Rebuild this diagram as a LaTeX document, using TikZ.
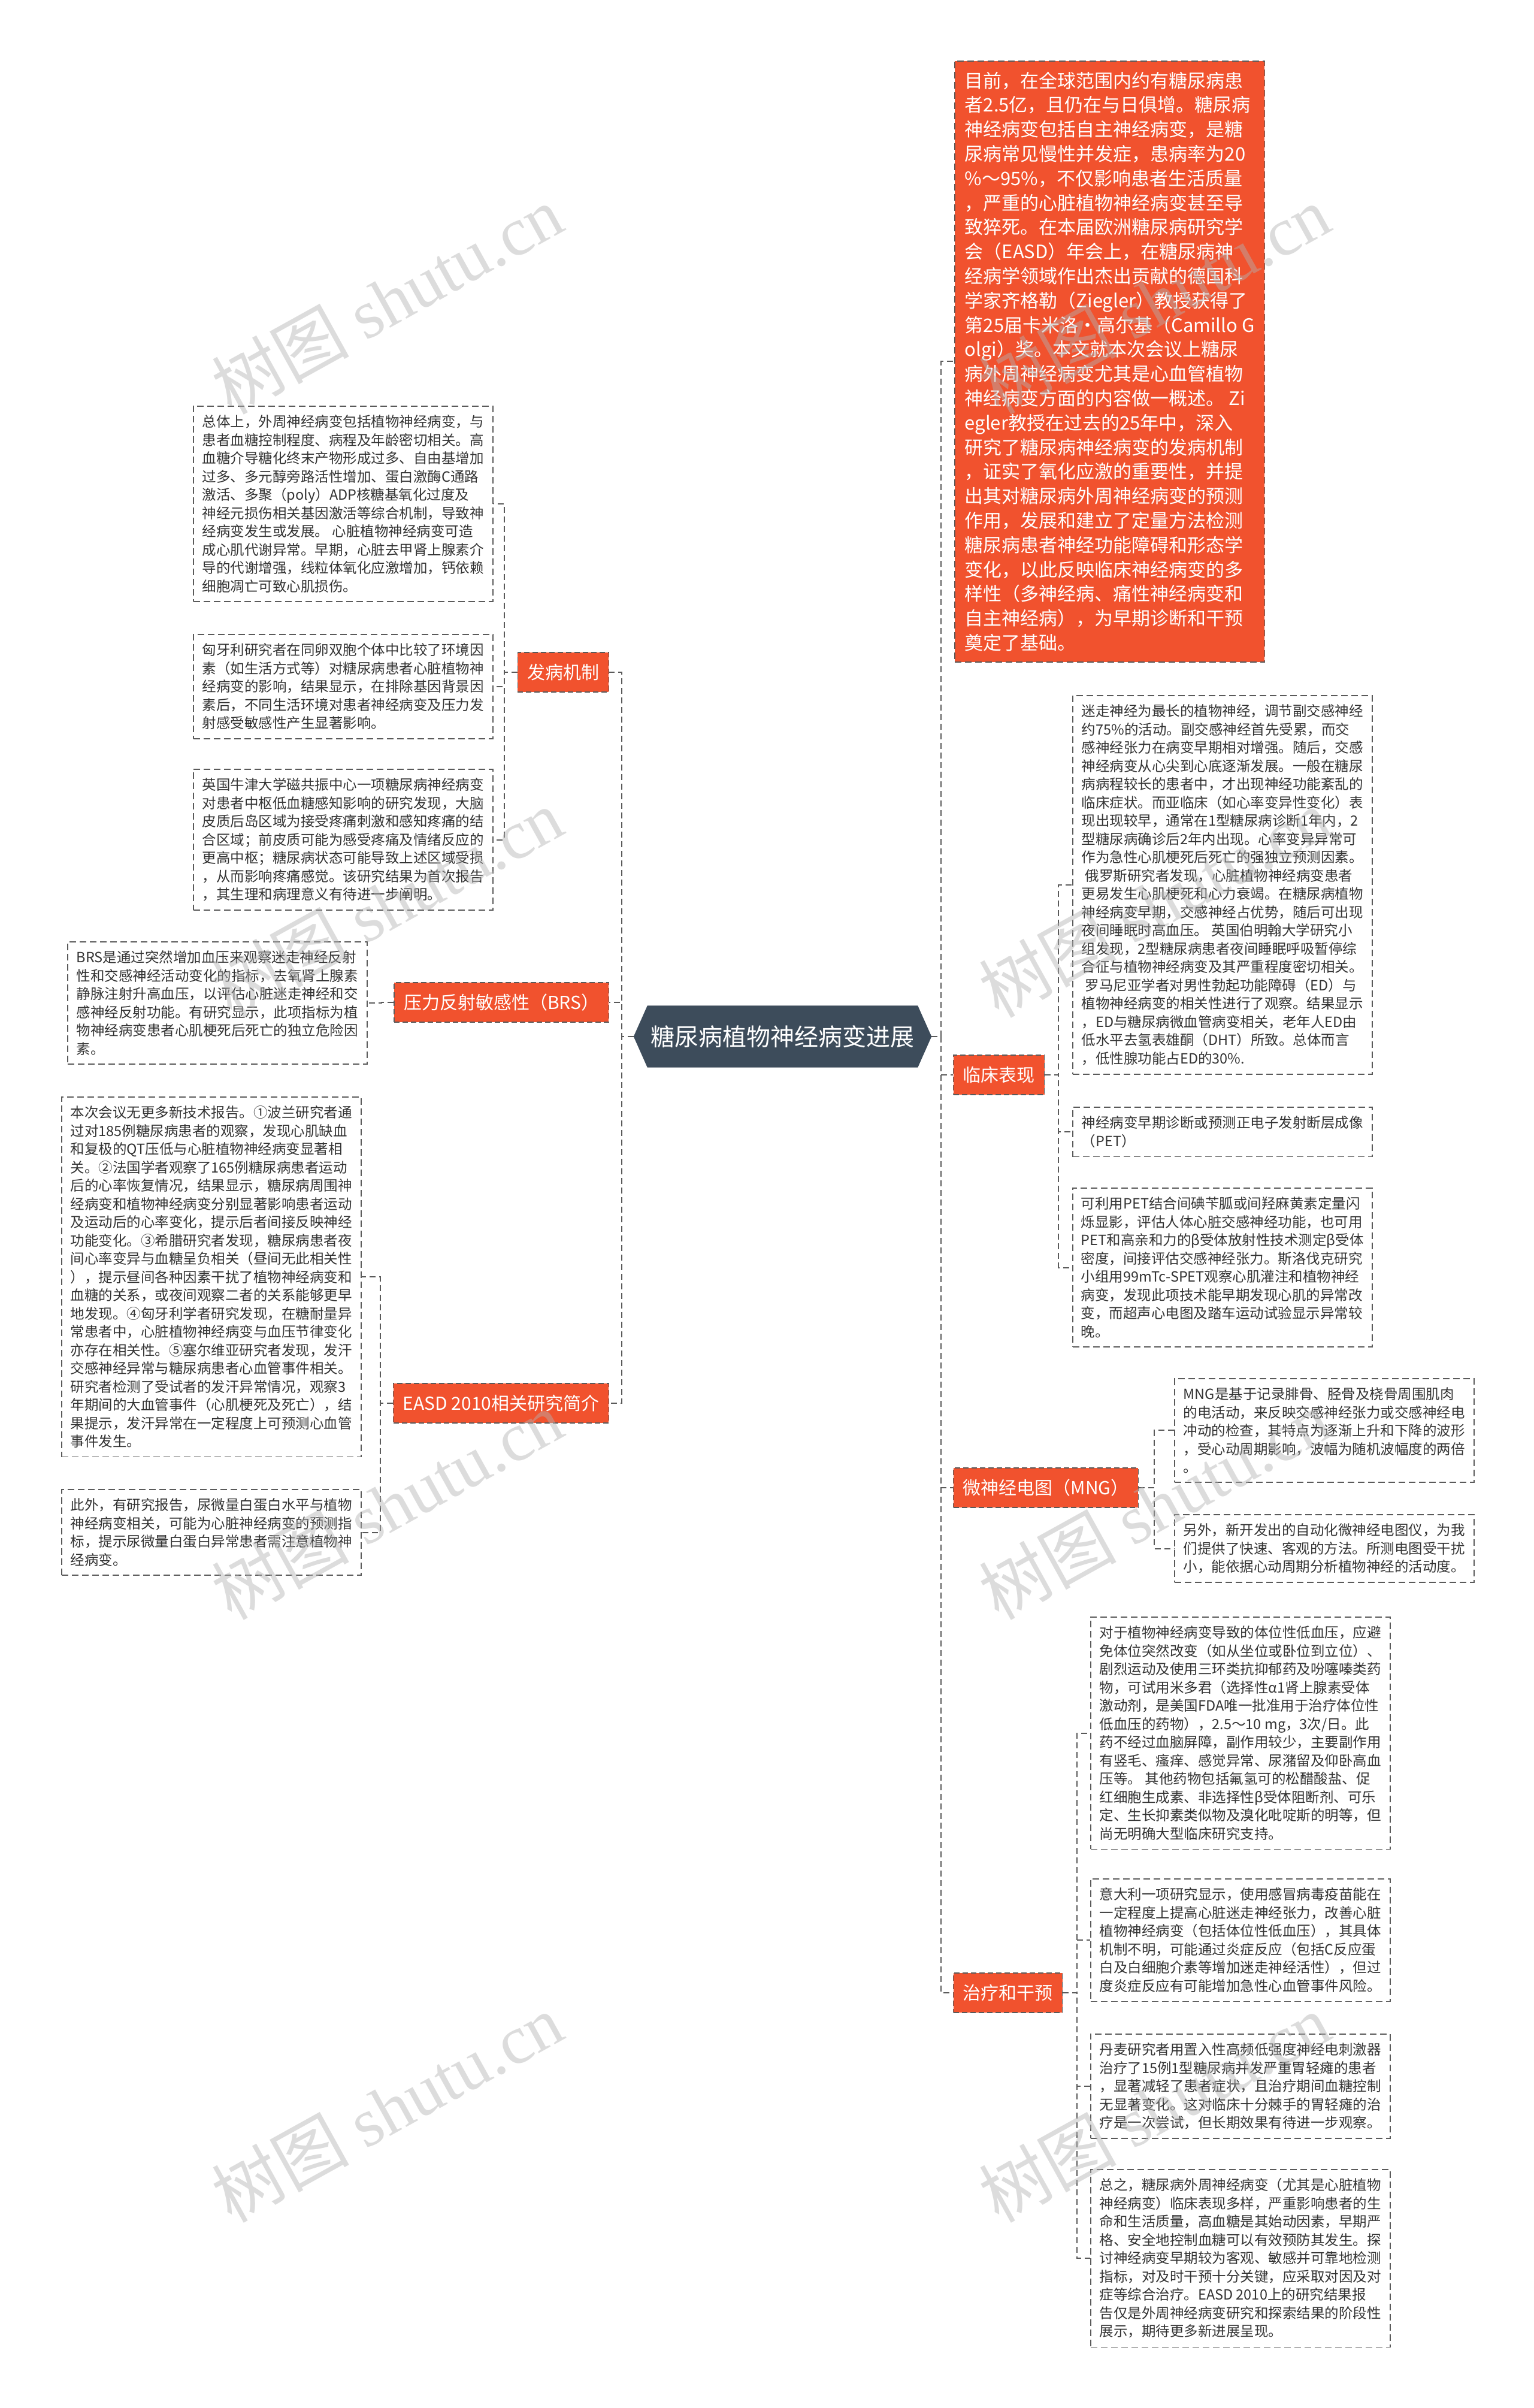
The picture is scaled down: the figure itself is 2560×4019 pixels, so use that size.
\documentclass[tikz,border=0pt]{standalone}
\usepackage{fontspec}
\setmainfont{Noto Sans CJK SC}
\newfontfamily\wmserif{Liberation Serif}
\usetikzlibrary{calc,backgrounds}
\definecolor{redc}{HTML}{F1522E}
\definecolor{slate}{HTML}{3D4C5B}
\definecolor{lineg}{HTML}{5A5A5A}
\definecolor{txtc}{HTML}{333333}
\begin{document}
\begin{tikzpicture}[x=1pt,y=-1pt,
  txt/.style={draw=lineg, line width=1.6pt, dash pattern=on 11pt off 6pt, fill=white,
    align=left, inner xsep=13pt, inner ysep=15pt, minimum width=500pt, anchor=north west,
    font=\fontsize{23.5}{30.5}\selectfont, text=txtc},
  redbox/.style={draw=lineg, line width=1.6pt, dash pattern=on 11pt off 6pt, fill=redc,
    align=left, inner xsep=17pt, inner ysep=18pt, minimum width=506pt, anchor=north west,
    font=\fontsize{31}{40.8}\selectfont, text=white},
  branch/.style={fill=redc, draw=lineg, line width=1.4pt, dash pattern=on 9pt off 5pt,
    text=white, font=\fontsize{30}{36}\selectfont, inner xsep=16pt, inner ysep=0pt,
    minimum height=66pt},
  conn/.style={draw=lineg, line width=2pt, dash pattern=on 10pt off 6pt},
  wm/.style={text=black!30, opacity=0.45, rotate=29, font=\fontsize{115}{120}\selectfont}
]
\useasboundingbox (0,0) rectangle (2560,4019);

% central node
\node[inner sep=0pt, minimum width=451pt, minimum height=103pt, text=white,
  font=\fontsize{40}{46}\selectfont] (c) at (1306.5,1730) {糖尿病植物神经病变进展};
\begin{scope}[on background layer]
\fill[slate] ($(c.west)+(-23,0)$) -- (c.north west) -- (c.north east) -- ($(c.east)+(23,0)$)
  -- (c.south east) -- (c.south west) -- cycle;
\end{scope}
\coordinate (cl) at ($(c.west)+(-23,0)$);
\coordinate (cr) at ($(c.east)+(23,0)$);

% branch nodes
\node[branch, anchor=east] (fb) at (1017,1122) {发病机制};
\node[branch, anchor=east] (brs) at (1017,1673) {压力反射敏感性（BRS）};
\node[branch, anchor=east] (easd) at (1017,2342) {EASD 2010相关研究简介};
\node[branch, anchor=west] (lc) at (1591,1794) {临床表现};
\node[branch, anchor=west] (mng) at (1591,2483) {微神经电图（MNG）};
\node[branch, anchor=west] (zl) at (1591,3326) {治疗和干预};

% intro box
\node[redbox] (intro) at (1593,101) {目前，在全球范围内约有糖尿病患\\
者2.5亿，且仍在与日俱增。糖尿病\\
神经病变包括自主神经病变，是糖\\
尿病常见慢性并发症，患病率为20\\
\%～95\%，不仅影响患者生活质量\\
，严重的心脏植物神经病变甚至导\\
致猝死。在本届欧洲糖尿病研究学\\
会（EASD）年会上，在糖尿病神\\
经病学领域作出杰出贡献的德国科\\
学家齐格勒（Ziegler）教授获得了\\
第25届卡米洛·高尔基（Camillo G\\
olgi）奖。本文就本次会议上糖尿\\
病外周神经病变尤其是心血管植物\\
神经病变方面的内容做一概述。 Zi\\
egler教授在过去的25年中，深入\\
研究了糖尿病神经病变的发病机制\\
，证实了氧化应激的重要性，并提\\
出其对糖尿病外周神经病变的预测\\
作用，发展和建立了定量方法检测\\
糖尿病患者神经功能障碍和形态学\\
变化，以此反映临床神经病变的多\\
样性（多神经病、痛性神经病变和\\
自主神经病），为早期诊断和干预\\
奠定了基础。};

% left boxes
\node[txt] (fb1) at (322,677) {总体上，外周神经病变包括植物神经病变，与\\
患者血糖控制程度、病程及年龄密切相关。高\\
血糖介导糖化终末产物形成过多、自由基增加\\
过多、多元醇旁路活性增加、蛋白激酶C通路\\
激活、多聚（poly）ADP核糖基氧化过度及\\
神经元损伤相关基因激活等综合机制，导致神\\
经病变发生或发展。 心脏植物神经病变可造\\
成心肌代谢异常。早期，心脏去甲肾上腺素介\\
导的代谢增强，线粒体氧化应激增加，钙依赖\\
细胞凋亡可致心肌损伤。};
\node[txt] (fb2) at (322,1058) {匈牙利研究者在同卵双胞个体中比较了环境因\\
素（如生活方式等）对糖尿病患者心脏植物神\\
经病变的影响，结果显示，在排除基因背景因\\
素后，不同生活环境对患者神经病变及压力发\\
射感受敏感性产生显著影响。};
\node[txt] (fb3) at (322,1283) {英国牛津大学磁共振中心一项糖尿病神经病变\\
对患者中枢低血糖感知影响的研究发现，大脑\\
皮质后岛区域为接受疼痛刺激和感知疼痛的结\\
合区域；前皮质可能为感受疼痛及情绪反应的\\
更高中枢；糖尿病状态可能导致上述区域受损\\
，从而影响疼痛感觉。该研究结果为首次报告\\
，其生理和病理意义有待进一步阐明。};
\node[txt] (brs1) at (112,1571) {BRS是通过突然增加血压来观察迷走神经反射\\
性和交感神经活动变化的指标，去氧肾上腺素\\
静脉注射升高血压，以评估心脏迷走神经和交\\
感神经反射功能。有研究显示，此项指标为植\\
物神经病变患者心肌梗死后死亡的独立危险因\\
素。};
\node[txt] (easd1) at (102,1830) {本次会议无更多新技术报告。①波兰研究者通\\
过对185例糖尿病患者的观察，发现心肌缺血\\
和复极的QT压低与心脏植物神经病变显著相\\
关。②法国学者观察了165例糖尿病患者运动\\
后的心率恢复情况，结果显示，糖尿病周围神\\
经病变和植物神经病变分别显著影响患者运动\\
及运动后的心率变化，提示后者间接反映神经\\
功能变化。③希腊研究者发现，糖尿病患者夜\\
间心率变异与血糖呈负相关（昼间无此相关性\\
），提示昼间各种因素干扰了植物神经病变和\\
血糖的关系，或夜间观察二者的关系能够更早\\
地发现。④匈牙利学者研究发现，在糖耐量异\\
常患者中，心脏植物神经病变与血压节律变化\\
亦存在相关性。⑤塞尔维亚研究者发现，发汗\\
交感神经异常与糖尿病患者心血管事件相关。\\
研究者检测了受试者的发汗异常情况，观察3\\
年期间的大血管事件（心肌梗死及死亡），结\\
果提示，发汗异常在一定程度上可预测心血管\\
事件发生。};
\node[txt] (easd2) at (102,2485) {此外，有研究报告，尿微量白蛋白水平与植物\\
神经病变相关，可能为心脏神经病变的预测指\\
标，提示尿微量白蛋白异常患者需注意植物神\\
经病变。};

% right boxes
\node[txt] (lc1) at (1790,1160) {迷走神经为最长的植物神经，调节副交感神经\\
约75\%的活动。副交感神经首先受累，而交\\
感神经张力在病变早期相对增强。随后，交感\\
神经病变从心尖到心底逐渐发展。一般在糖尿\\
病病程较长的患者中，才出现神经功能紊乱的\\
临床症状。而亚临床（如心率变异性变化）表\\
现出现较早，通常在1型糖尿病诊断1年内，2\\
型糖尿病确诊后2年内出现。心率变异异常可\\
作为急性心肌梗死后死亡的强独立预测因素。\\
\hspace*{6pt}俄罗斯研究者发现，心脏植物神经病变患者\\
更易发生心肌梗死和心力衰竭。在糖尿病植物\\
神经病变早期，交感神经占优势，随后可出现\\
夜间睡眠时高血压。 英国伯明翰大学研究小\\
组发现，2型糖尿病患者夜间睡眠呼吸暂停综\\
合征与植物神经病变及其严重程度密切相关。\\
\hspace*{6pt}罗马尼亚学者对男性勃起功能障碍（ED）与\\
植物神经病变的相关性进行了观察。结果显示\\
，ED与糖尿病微血管病变相关，老年人ED由\\
低水平去氢表雄酮（DHT）所致。总体而言\\
，低性腺功能占ED的30\%.};
\node[txt] (lc2) at (1790,1847) {神经病变早期诊断或预测正电子发射断层成像\\
（PET）};
\node[txt] (lc3) at (1790,1982) {可利用PET结合间碘苄胍或间羟麻黄素定量闪\\
烁显影，评估人体心脏交感神经功能，也可用\\
PET和高亲和力的β受体放射性技术测定β受体\\
密度，间接评估交感神经张力。斯洛伐克研究\\
小组用99mTc-SPET观察心肌灌注和植物神经\\
病变，发现此项技术能早期发现心肌的异常改\\
变，而超声心电图及踏车运动试验显示异常较\\
晚。};
\node[txt] (mng1) at (1960,2300) {MNG是基于记录腓骨、胫骨及桡骨周围肌肉\\
的电活动，来反映交感神经张力或交感神经电\\
冲动的检查，其特点为逐渐上升和下降的波形\\
，受心动周期影响，波幅为随机波幅度的两倍\\
。};
\node[txt] (mng2) at (1960,2527) {另外，新开发出的自动化微神经电图仪，为我\\
们提供了快速、客观的方法。所测电图受干扰\\
小，能依据心动周期分析植物神经的活动度。};
\node[txt] (zl1) at (1820,2698) {对于植物神经病变导致的体位性低血压，应避\\
免体位突然改变（如从坐位或卧位到立位）、\\
剧烈运动及使用三环类抗抑郁药及吩噻嗪类药\\
物，可试用米多君（选择性α1肾上腺素受体\\
激动剂，是美国FDA唯一批准用于治疗体位性\\
低血压的药物），2.5～10 mg，3次/日。此\\
药不经过血脑屏障，副作用较少，主要副作用\\
有竖毛、瘙痒、感觉异常、尿潴留及仰卧高血\\
压等。 其他药物包括氟氢可的松醋酸盐、促\\
红细胞生成素、非选择性β受体阻断剂、可乐\\
定、生长抑素类似物及溴化吡啶斯的明等，但\\
尚无明确大型临床研究支持。};
\node[txt] (zl2) at (1820,3135) {意大利一项研究显示，使用感冒病毒疫苗能在\\
一定程度上提高心脏迷走神经张力，改善心脏\\
植物神经病变（包括体位性低血压），其具体\\
机制不明，可能通过炎症反应（包括C反应蛋\\
白及白细胞介素等增加迷走神经活性），但过\\
度炎症反应有可能增加急性心血管事件风险。};
\node[txt] (zl3) at (1820,3394) {丹麦研究者用置入性高频低强度神经电刺激器\\
治疗了15例1型糖尿病并发严重胃轻瘫的患者\\
，显著减轻了患者症状，且治疗期间血糖控制\\
无显著变化。这对临床十分棘手的胃轻瘫的治\\
疗是一次尝试，但长期效果有待进一步观察。};
\node[txt] (zl4) at (1820,3620) {总之，糖尿病外周神经病变（尤其是心脏植物\\
神经病变）临床表现多样，严重影响患者的生\\
命和生活质量，高血糖是其始动因素，早期严\\
格、安全地控制血糖可以有效预防其发生。探\\
讨神经病变早期较为客观、敏感并可靠地检测\\
指标，对及时干预十分关键，应采取对因及对\\
症等综合治疗。EASD 2010上的研究结果报\\
告仅是外周神经病变研究和探索结果的阶段性\\
展示，期待更多新进展呈现。};

% connectors from center
\draw[conn] (cl) -- ++(-20,0) |- (fb.east);
\draw[conn] (cl) -- ++(-20,0) |- (brs.east);
\draw[conn] (cl) -- ++(-20,0) |- (easd.east);
\draw[conn] (cr) -- ++(16,0) |- (intro.west);
\draw[conn] (cr) -- ++(16,0) |- (lc.west);
\draw[conn] (cr) -- ++(16,0) |- (mng.west);
\draw[conn] (cr) -- ++(16,0) |- (zl.west);

% sub connectors
\draw[conn] (fb.west) -- ++(-22,0) |- (fb1.east);
\draw[conn] (fb.west) -- ++(-22,0) |- (fb2.east);
\draw[conn] (fb.west) -- ++(-22,0) |- (fb3.east);
\draw[conn] (brs.west) -- ++(-20,0) |- (brs1.east);
\draw[conn] (easd.west) -- ++(-21,0) |- (easd1.east);
\draw[conn] (easd.west) -- ++(-21,0) |- (easd2.east);
\draw[conn] (lc.east) -- ++(23,0) |- (lc1.west);
\draw[conn] (lc.east) -- ++(23,0) |- (lc2.west);
\draw[conn] (lc.east) -- ++(23,0) |- (lc3.west);
\draw[conn] (mng.east) -- ++(26,0) |- (mng1.west);
\draw[conn] (mng.east) -- ++(26,0) |- (mng2.west);
\draw[conn] (zl.east) -- ++(24,0) |- (zl1.west);
\draw[conn] (zl.east) -- ++(24,0) |- (zl2.west);
\draw[conn] (zl.east) -- ++(24,0) |- (zl3.west);
\draw[conn] (zl.east) -- ++(24,0) |- (zl4.west);

% watermarks
\node[wm] (w1) at (646,500) {树图 {\wmserif shutu.cn}};
\node[wm] (w2) at (646,1507) {树图 {\wmserif shutu.cn}};
\node[wm] (w3) at (646,2512) {树图 {\wmserif shutu.cn}};
\node[wm] (w4) at (646,3518) {树图 {\wmserif shutu.cn}};
\node[wm] (w5) at (1927,500) {树图 {\wmserif shutu.cn}};
\node[wm] (w6) at (1927,1507) {树图 {\wmserif shutu.cn}};
\node[wm] (w7) at (1927,2512) {树图 {\wmserif shutu.cn}};
\node[wm] (w8) at (1927,3518) {树图 {\wmserif shutu.cn}};
\end{tikzpicture}
\end{document}
